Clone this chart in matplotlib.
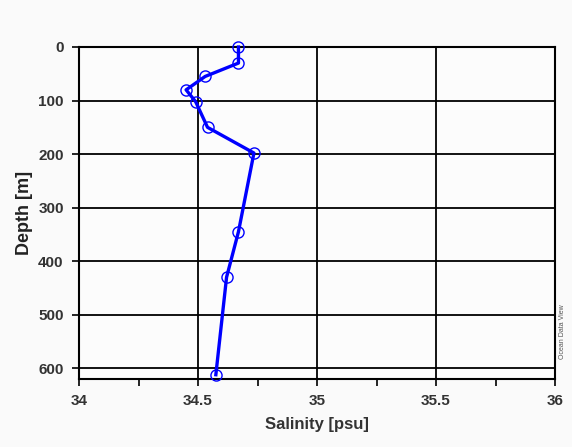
import matplotlib
matplotlib.use("Agg")
import matplotlib.pyplot as plt
from matplotlib.ticker import MultipleLocator

salinity = [34.67, 34.67, 34.53, 34.45, 34.49, 34.54, 34.735, 34.67, 34.62, 34.575]
depth = [0, 30, 55, 80, 102, 150, 198, 345, 430, 612]
xticks = [34, 34.5, 35, 35.5, 36]
xticklabels = ["34", "34.5", "35", "35.5", "36"]
yticks = [0, 100, 200, 300, 400, 500, 600]

plt.rcParams['font.family'] = ['Liberation Sans', 'DejaVu Sans']
fig = plt.figure(figsize=(5.72, 4.47), dpi=100, facecolor='#fafafa')
ax = fig.add_axes([79/572, 1-379/447, (555-79)/572, (379-47)/447])
ax.set_facecolor('#fcfcfc')

ax.plot(salinity, depth, color='#0000ff', lw=2.4, marker='o', ms=8,
        mfc='none', mec='#0000ff', mew=1.0, zorder=3, clip_on=False)

ax.set_xlim(34, 36)
ax.set_ylim(620, 0)
ax.set_xticks(xticks)
ax.set_xticklabels(xticklabels)
ax.set_yticks(yticks)
ax.xaxis.set_minor_locator(MultipleLocator(0.25))
ax.grid(True, which='major', color='black', lw=1.3)
for s in ax.spines.values():
    s.set_linewidth(1.5)
ax.tick_params(axis='both', which='major', direction='out', length=5, width=1.2,
               labelsize=11, pad=6)
ax.tick_params(axis='x', which='minor', direction='out', length=5, width=1.2)
for lab in ax.get_xticklabels() + ax.get_yticklabels():
    lab.set_fontweight('bold')
    lab.set_color('#333333')

ax.set_xlabel('Salinity [psu]', fontsize=12, fontweight='bold', color='#333333', labelpad=6)
ax.set_ylabel('Depth [m]', fontsize=13, fontweight='bold', color='#222222', labelpad=4)

fig.text(563/572, 1-332/447, 'Ocean Data View', rotation=90, fontsize=5,
         ha='center', va='center', color='#555555')

fig.savefig('out.png', dpi=100, facecolor=fig.get_facecolor())
